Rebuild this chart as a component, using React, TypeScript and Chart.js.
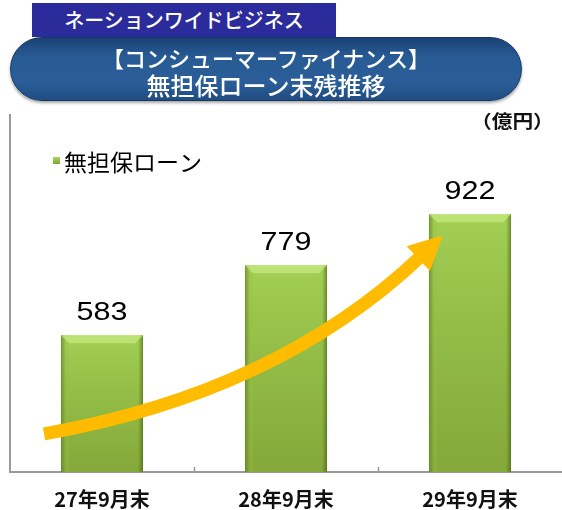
import React, { useEffect, useRef } from "react";
import { Chart, registerables } from "chart.js";

Chart.register(...registerables);

const categories = ["27年9月末", "28年9月末", "29年9月末"];
const loanValues = [583, 779, 922];
const seriesLabel = "無担保ローン";
const yMin = 200;
const yMax = 1200;
const unitLabel = "（億円）";
const headerLabel = "ネーションワイドビジネス";
const titleLines = ["【コンシューマーファイナンス】", "無担保ローン末残推移"];
// growth arrow in data coordinates: [category index, value]
const arrowStart = [-0.315, 307];
const arrowControl = [0.951, 422];
const arrowTip = [1.853, 863];

const JP = '"Noto Sans CJK JP", "Noto Sans", sans-serif';
const LAT = '"Liberation Sans", Arial, sans-serif';

const decorPlugin = {
  id: "decor",
  afterDatasetsDraw(chart: any) {
    const ctx = chart.ctx as CanvasRenderingContext2D;
    const xs = chart.scales.x;
    const ys = chart.scales.y;
    const area = chart.chartArea;
    const meta = chart.getDatasetMeta(0);

    // bar shading (edges + top bevel)
    meta.data.forEach((bar: any) => {
      const p = bar.getProps(["x", "y", "width", "base"], true);
      const l = p.x - p.width / 2;
      const r = p.x + p.width / 2;
      const t = p.y;
      const b = Math.min(p.base, area.bottom);
      ctx.save();
      ctx.beginPath();
      ctx.rect(area.left, area.top, area.right - area.left, area.bottom - area.top);
      ctx.clip();
      const hg = ctx.createLinearGradient(l, 0, r, 0);
      hg.addColorStop(0, "rgba(60,80,15,0.55)");
      hg.addColorStop(0.06, "rgba(60,80,15,0.0)");
      hg.addColorStop(0.94, "rgba(60,80,15,0.0)");
      hg.addColorStop(1, "rgba(60,80,15,0.55)");
      ctx.fillStyle = hg;
      ctx.fillRect(l, t, r - l, b - t);
      const bev = 8;
      ctx.beginPath();
      ctx.moveTo(l, t);
      ctx.lineTo(r, t);
      ctx.lineTo(r - bev, t + bev);
      ctx.lineTo(l + bev, t + bev);
      ctx.closePath();
      ctx.fillStyle = "rgba(200,235,130,0.7)";
      ctx.fill();
      ctx.beginPath();
      ctx.moveTo(l, t);
      ctx.lineTo(l + bev, t + bev);
      ctx.lineTo(l + bev, b);
      ctx.lineTo(l, b);
      ctx.closePath();
      ctx.fillStyle = "rgba(150,190,70,0.25)";
      ctx.fill();
      ctx.restore();
    });

    // value labels
    meta.data.forEach((bar: any, i: number) => {
      const p = bar.getProps(["x", "y"], true);
      ctx.save();
      ctx.translate(p.x, p.y - 15);
      ctx.scale(1.22, 1);
      ctx.fillStyle = "#000";
      ctx.font = `25px ${LAT}`;
      ctx.textAlign = "center";
      ctx.textBaseline = "alphabetic";
      ctx.fillText(String(loanValues[i]), 0, 0);
      ctx.restore();
    });

    // tick marks between categories (inward)
    ctx.save();
    ctx.strokeStyle = "#9a9a9a";
    ctx.lineWidth = 1.5;
    for (let i = 0; i < categories.length - 1; i++) {
      const x = Math.round(xs.getPixelForValue(i + 0.5)) + 0.5;
      ctx.beginPath();
      ctx.moveTo(x, area.bottom);
      ctx.lineTo(x, area.bottom - 5);
      ctx.stroke();
    }
    ctx.restore();

    // legend
    ctx.save();
    const lx = area.left + 43;
    const ly = area.top + 45;
    const sg = ctx.createLinearGradient(0, ly - 4, 0, ly + 4);
    sg.addColorStop(0, "#b5dc6a");
    sg.addColorStop(1, "#7fa236");
    ctx.fillStyle = sg;
    ctx.fillRect(lx, ly - 3, 7, 7);
    ctx.fillStyle = "#000";
    ctx.font = `23px ${JP}`;
    ctx.textAlign = "left";
    ctx.textBaseline = "middle";
    ctx.fillText(seriesLabel, lx + 11, ly + 2);
    ctx.restore();

    // arrow
    const px = (pt: number[]) => [xs.getPixelForValue(pt[0]), ys.getPixelForValue(pt[1])];
    const P0 = px(arrowStart);
    const C = px(arrowControl);
    const T = px(arrowTip);
    let dx = T[0] - C[0];
    let dy = T[1] - C[1];
    const len = Math.hypot(dx, dy);
    dx /= len;
    dy /= len;
    const headLen = 34;
    const headHalf = 17;
    const B = [T[0] - dx * headLen, T[1] - dy * headLen];
    const Bs = [T[0] - dx * (headLen - 4), T[1] - dy * (headLen - 4)];
    ctx.save();
    ctx.strokeStyle = "#ffbb00";
    ctx.fillStyle = "#ffbb00";
    ctx.lineWidth = 13;
    ctx.lineCap = "butt";
    ctx.beginPath();
    ctx.moveTo(P0[0], P0[1]);
    ctx.quadraticCurveTo(C[0], C[1], Bs[0], Bs[1]);
    ctx.stroke();
    ctx.beginPath();
    ctx.moveTo(T[0], T[1]);
    ctx.lineTo(B[0] - dy * headHalf, B[1] + dx * headHalf);
    ctx.lineTo(B[0] + dy * headHalf, B[1] - dx * headHalf);
    ctx.closePath();
    ctx.fill();
    ctx.restore();
  },
};

const bgPlugin = {
  id: "bg",
  beforeDraw(chart: any) {
    const ctx = chart.ctx;
    ctx.save();
    ctx.fillStyle = "#ffffff";
    ctx.fillRect(0, 0, chart.width, chart.height);
    ctx.restore();
  },
};

export default function App() {
  const ref = useRef<HTMLCanvasElement | null>(null);
  useEffect(() => {
    if (!ref.current) return;
    const chart = new Chart(ref.current, {
      type: "bar",
      data: {
        labels: categories,
        datasets: [
          {
            label: seriesLabel,
            data: loanValues,
            base: yMin,
            clip: 0,
            backgroundColor: (c: any) => {
              const ch = c.chart;
              const area = ch.chartArea;
              if (!area || c.parsed == null) return "#8fb842";
              const top = ch.scales.y.getPixelForValue(c.parsed.y);
              const g = ch.ctx.createLinearGradient(0, top, 0, area.bottom);
              g.addColorStop(0, "#a3cf55");
              g.addColorStop(0.35, "#96c049");
              g.addColorStop(1, "#84a83a");
              return g;
            },
            borderWidth: 0,
            barPercentage: 0.446,
            categoryPercentage: 1,
          },
        ],
      },
      options: {
        responsive: false,
        animation: false,
        devicePixelRatio: 1,
        layout: { padding: { left: 10, top: 115, right: 0, bottom: -16 } },
        plugins: { legend: { display: false }, tooltip: { enabled: false } },
        scales: {
          x: {
            offset: true,
            grid: { display: false, drawTicks: false },
            border: { display: true, color: "#9a9a9a", width: 2 },
            ticks: {
              color: "#111",
              padding: 15,
              font: { family: JP, size: 20, weight: "bold" },
            },
          },
          y: {
            min: yMin,
            max: yMax,
            grid: { display: false, drawTicks: false },
            border: { display: true, color: "#9a9a9a", width: 2 },
            ticks: { display: false },
          },
        },
      },
      plugins: [bgPlugin, decorPlugin],
    });
    return () => chart.destroy();
  }, []);

  return (
    <div style={{ position: "fixed", left: 0, top: 0, width: 562, height: 510, background: "#fff", overflow: "hidden" }}>
      <canvas ref={ref} width={562} height={510} style={{ position: "absolute", left: 0, top: 0, width: 562, height: 510 }} />
      <div
        style={{
          position: "absolute",
          left: 32,
          top: 3,
          width: 304,
          height: 34,
          background: "#2b2b9b",
          color: "#fff",
          fontFamily: JP,
          fontSize: 20,
          fontWeight: 500,
          lineHeight: "34px",
          textAlign: "center",
        }}
      >
        {headerLabel}
      </div>
      <div
        style={{
          position: "absolute",
          left: 10,
          top: 37,
          width: 512,
          height: 64,
          boxSizing: "border-box",
          borderRadius: 32,
          background: "linear-gradient(to bottom, #1a4276 0%, #285a94 30%, #2b5e98 70%, #204d83 100%)",
          border: "1.5px solid #163660",
          boxShadow: "0 2px 3px rgba(0,0,0,0.35)",
          color: "#fff",
          fontFamily: JP,
          fontWeight: 500,
          textAlign: "center",
        }}
      >
        <div style={{ position: "absolute", left: 0, right: 0, top: 5, fontSize: 22, lineHeight: "28px" }}>{titleLines[0]}</div>
        <div style={{ position: "absolute", left: 0, right: 0, top: 32, fontSize: 24, lineHeight: "30px" }}>{titleLines[1]}</div>
      </div>
      <div
        style={{
          position: "absolute",
          left: 471,
          top: 107,
          fontFamily: JP,
          fontSize: 18,
          fontWeight: "bold",
          color: "#111",
          lineHeight: "26px",
          transform: "scaleX(1.15)",
          transformOrigin: "left center",
          whiteSpace: "nowrap",
        }}
      >
        {unitLabel}
      </div>
    </div>
  );
}
